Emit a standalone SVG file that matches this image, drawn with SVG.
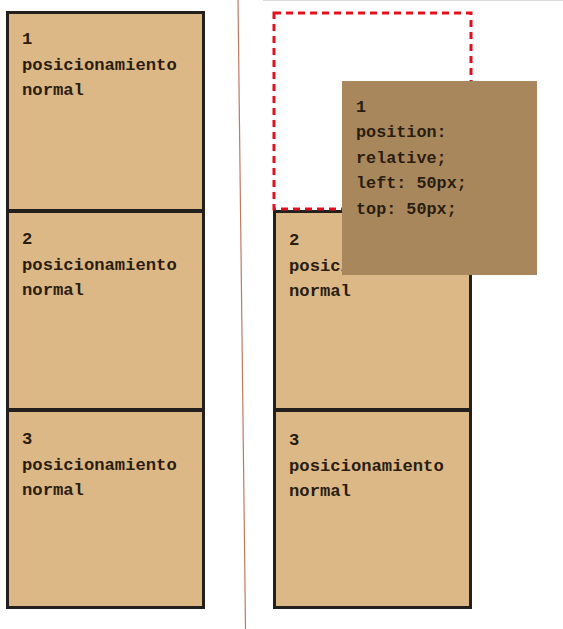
<svg xmlns="http://www.w3.org/2000/svg" width="563" height="629" viewBox="0 0 563 629">
<style>
.box{fill:#ddb887;stroke:#231f1c;stroke-width:3}
.t{font-family:"Liberation Mono","Courier New",monospace;font-weight:bold;font-size:17.2px;fill:#2a1d10}
.o{font-size:16.8px}
</style>
<rect width="563" height="629" fill="#ffffff"/>
<line x1="263" y1="0.5" x2="563" y2="0.5" stroke="#dcdcdc" stroke-width="1"/>
<g id="separator">
<line x1="238" y1="0" x2="245.5" y2="629" stroke="#c07a62" stroke-width="1.2"/>
</g>
<g id="left-box1">
<rect class="box" x="7.5" y="12.5" width="196" height="198"/>
<text class="t" x="22" y="44">1</text>
<text class="t" x="22" y="70">posicionamiento</text>
<text class="t" x="22" y="95">normal</text>
</g>
<g id="left-box2">
<rect class="box" x="7.5" y="211.5" width="196" height="198"/>
<text class="t" x="22" y="244">2</text>
<text class="t" x="22" y="270">posicionamiento</text>
<text class="t" x="22" y="295">normal</text>
</g>
<g id="left-box3">
<rect class="box" x="7.5" y="410.5" width="196" height="197"/>
<text class="t" x="22" y="444">3</text>
<text class="t" x="22" y="470">posicionamiento</text>
<text class="t" x="22" y="495">normal</text>
</g>
<g id="right-box2">
<rect class="box" x="274.5" y="211.5" width="196" height="198"/>
<text class="t" x="289" y="245">2</text>
<text class="t" x="289" y="271">posicionamiento</text>
<text class="t" x="289" y="296">normal</text>
</g>
<g id="right-box3">
<rect class="box" x="274.5" y="410.5" width="196" height="197"/>
<text class="t" x="289" y="445">3</text>
<text class="t" x="289" y="471">posicionamiento</text>
<text class="t" x="289" y="496">normal</text>
</g>
<g id="original-position">
<rect x="274" y="13" width="197" height="196" fill="none" stroke="#e0101e" stroke-width="3" stroke-dasharray="7 5"/>
</g>
<g id="relative-box1">
<rect x="342" y="81" width="195" height="194" fill="#a8875d"/>
<text class="t o" x="356" y="112">1</text>
<text class="t o" x="356" y="137">position:</text>
<text class="t o" x="356" y="163">relative;</text>
<text class="t o" x="356" y="188">left: 50px;</text>
<text class="t o" x="356" y="214">top: 50px;</text>
</g>
</svg>
